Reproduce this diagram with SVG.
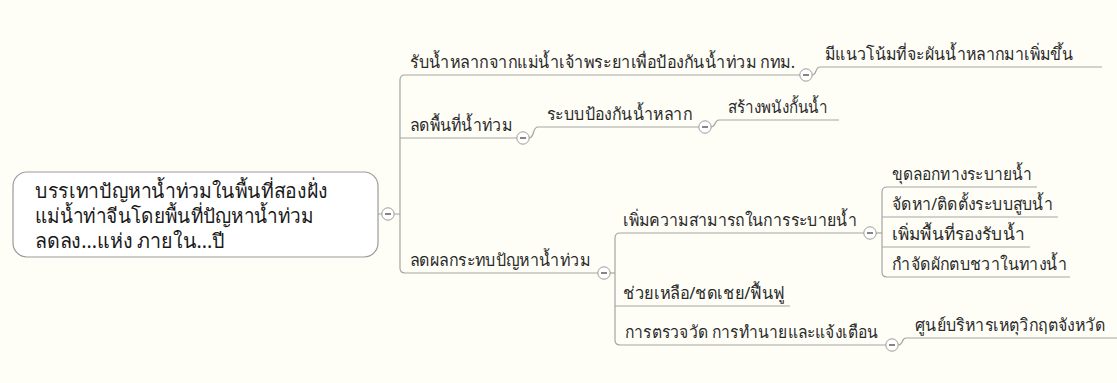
<svg xmlns="http://www.w3.org/2000/svg" width="1117" height="383" viewBox="0 0 1117 383">
<style>
.bg{fill:#fefef7}
.t{font-family:'Noto Sans','DejaVu Sans',sans-serif;font-size:17px;fill:#2a2a2a}
.rt{font-family:'Noto Sans','DejaVu Sans',sans-serif;font-size:20px;fill:#1a1a1a}
.ln{fill:none;stroke:#a3a3a3;stroke-width:1.2}
.box{fill:#ffffff;stroke:#9a9a9a;stroke-width:1.2}
.cc{fill:#ffffff;stroke:#9c9c9c;stroke-width:1}
.cm{stroke:#444;stroke-width:1.3}
</style>
<defs>
<g id="collapse"><circle class="cc" cx="0" cy="0" r="6.2"/><line class="cm" x1="-3" y1="0" x2="3" y2="0"/></g>
</defs>
<rect class="bg" x="0" y="0" width="1117" height="383"/>
<g id="connectors">
<path class="ln" d="M378 214 H382 M394 214 H400"/>
<path class="ln" d="M800 75 H405 Q400 75 400 80 V268 Q400 273 405 273 H598"/>
<path class="ln" d="M400 138 H517"/>
<path class="ln" d="M812 75 C817 75 815 67 820 67 H1102"/>
<path class="ln" d="M529 138 C535 138 532 127 538 127 H699"/>
<path class="ln" d="M711 127 C716 127 714 120 719 120 H839"/>
<path class="ln" d="M610 273 H615"/>
<path class="ln" d="M864 233 H620 Q615 233 615 238 V340 Q615 345 620 345 H886"/>
<path class="ln" d="M615 306 H790"/>
<path class="ln" d="M876 233 H882"/>
<path class="ln" d="M1037 187 H887 Q882 187 882 192 V272 Q882 277 887 277 H1070"/>
<path class="ln" d="M882 217 H1058 M882 247 H1030"/>
<path class="ln" d="M898 345 C904 345 901 338 906 338 H1117"/>
</g>
<g id="root">
<rect class="box" x="13" y="172" width="365" height="85" rx="14"/>
<text class="rt" x="35" y="198" textLength="293" lengthAdjust="spacingAndGlyphs">บรรเทาปัญหาน้ำท่วมในพื้นที่สองฝั่ง</text>
<text class="rt" x="35" y="223" textLength="278" lengthAdjust="spacingAndGlyphs">แม่น้ำท่าจีนโดยพื้นที่ปัญหาน้ำท่วม</text>
<text class="rt" x="35" y="248" textLength="190" lengthAdjust="spacingAndGlyphs">ลดลง...แห่ง ภายใน...ปี</text>
<use href="#collapse" x="388" y="214"/>
</g>
<g id="n1">
<text class="t" x="410" y="68" textLength="385" lengthAdjust="spacingAndGlyphs">รับน้ำหลากจากแม่น้ำเจ้าพระยาเพื่อป้องกันน้ำท่วม กทม.</text>
<use href="#collapse" x="806" y="75"/>
</g>
<g id="n1a">
<text class="t" x="825" y="60" textLength="248" lengthAdjust="spacingAndGlyphs">มีแนวโน้มที่จะผันน้ำหลากมาเพิ่มขึ้น</text>
</g>
<g id="n2">
<text class="t" x="410" y="131" textLength="102" lengthAdjust="spacingAndGlyphs">ลดพื้นที่น้ำท่วม</text>
<use href="#collapse" x="523" y="138"/>
</g>
<g id="n2a">
<text class="t" x="547" y="120" textLength="145" lengthAdjust="spacingAndGlyphs">ระบบป้องกันน้ำหลาก</text>
<use href="#collapse" x="705" y="127"/>
</g>
<g id="n2b">
<text class="t" x="728" y="113" textLength="100" lengthAdjust="spacingAndGlyphs">สร้างพนังกั้นน้ำ</text>
</g>
<g id="n3">
<text class="t" x="410" y="266" textLength="180" lengthAdjust="spacingAndGlyphs">ลดผลกระทบปัญหาน้ำท่วม</text>
<use href="#collapse" x="604" y="273"/>
</g>
<g id="n3a">
<text class="t" x="623" y="226" textLength="234" lengthAdjust="spacingAndGlyphs">เพิ่มความสามารถในการระบายน้ำ</text>
<use href="#collapse" x="870" y="233"/>
</g>
<g id="n3a1"><text class="t" x="892" y="180" textLength="140" lengthAdjust="spacingAndGlyphs">ขุดลอกทางระบายน้ำ</text></g>
<g id="n3a2"><text class="t" x="892" y="210" textLength="161" lengthAdjust="spacingAndGlyphs">จัดหา/ติดตั้งระบบสูบน้ำ</text></g>
<g id="n3a3"><text class="t" x="892" y="240" textLength="133" lengthAdjust="spacingAndGlyphs">เพิ่มพื้นที่รองรับน้ำ</text></g>
<g id="n3a4"><text class="t" x="892" y="270" textLength="175" lengthAdjust="spacingAndGlyphs">กำจัดผักตบชวาในทางน้ำ</text></g>
<g id="n3b"><text class="t" x="623" y="299" textLength="162" lengthAdjust="spacingAndGlyphs">ช่วยเหลือ/ชดเชย/ฟื้นฟู</text></g>
<g id="n3c">
<text class="t" x="625" y="338" textLength="253" lengthAdjust="spacingAndGlyphs">การตรวจวัด การทำนายและแจ้งเตือน</text>
<use href="#collapse" x="892" y="345"/>
</g>
<g id="n3c1"><text class="t" x="915" y="331" textLength="190" lengthAdjust="spacingAndGlyphs">ศูนย์บริหารเหตุวิกฤตจังหวัด</text></g>
</svg>
